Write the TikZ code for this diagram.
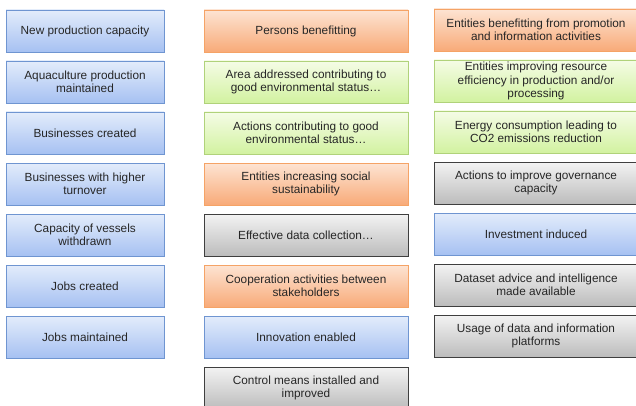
\documentclass[tikz,border=0pt]{standalone}
\usepackage{fontspec}
\setmainfont{Liberation Sans}
\usetikzlibrary{shadows}

\definecolor{bluetop}{HTML}{E3ECFB}
\definecolor{bluebot}{HTML}{A6C1F2}
\definecolor{blueline}{HTML}{6F95D1}
\definecolor{orangetop}{HTML}{FDE4D3}
\definecolor{orangebot}{HTML}{F8AA78}
\definecolor{orangeline}{HTML}{F5A366}
\definecolor{greentop}{HTML}{F5FCE6}
\definecolor{greenbot}{HTML}{D2F2A0}
\definecolor{greenline}{HTML}{B0D27A}
\definecolor{graytop}{HTML}{F3F3F3}
\definecolor{graybot}{HTML}{BCBCBC}
\definecolor{grayline}{HTML}{3F3F3F}

\begin{document}
\begin{tikzpicture}[x=1pt,y=-1pt,
    box/.style={rectangle,draw,line width=0.9pt,minimum height=42pt,
      inner sep=1pt,align=center,text=black!85,
      font=\fontsize{11.8}{13.3}\selectfont,
      drop shadow={shadow xshift=0.8pt,shadow yshift=-1.2pt,opacity=0.3}},
    bluebox/.style={box,draw=blueline,top color=bluetop,bottom color=bluebot},
    orangebox/.style={box,draw=orangeline,top color=orangetop,bottom color=orangebot},
    greenbox/.style={box,draw=greenline,top color=greentop,bottom color=greenbot},
    graybox/.style={box,draw=grayline,top color=graytop,bottom color=graybot}]
    \useasboundingbox (0,0) rectangle (636,406);
    \clip (0,0) rectangle (636,406);

    % left column
    \foreach \txt [count=\i] in {New production capacity,
        {Aquaculture production\\maintained},
        Businesses created,
        {Businesses with higher\\turnover},
        {Capacity of vessels\\withdrawn},
        Jobs created,
        Jobs maintained} {
      \node[bluebox,minimum width=158pt](l\i) at (85, {31+51*(\i-1)}) {\txt};
    }

    % middle column
    \foreach \kind/\txt [count=\i] in {orangebox/Persons benefitting,
        greenbox/{Area addressed contributing to\\good environmental status\ldots},
        greenbox/{Actions contributing to good\\environmental status\ldots},
        orangebox/{Entities increasing social\\sustainability},
        graybox/Effective data collection\ldots,
        orangebox/{Cooperation activities between\\stakeholders},
        bluebox/Innovation enabled,
        graybox/{Control means installed and\\improved}} {
      \node[\kind,minimum width=204pt](m\i) at (306, {31+51*(\i-1)}) {\txt};
    }

    % right column
    \foreach \kind/\txt [count=\i] in {orangebox/{Entities benefitting from promotion\\and information activities},
        greenbox/{Entities improving resource\\efficiency in production and/or\\processing},
        greenbox/{Energy consumption leading to\\CO2 emissions reduction},
        graybox/{Actions to improve governance\\capacity},
        bluebox/Investment induced,
        graybox/{Dataset advice and intelligence\\made available},
        graybox/{Usage of data and information\\platforms}} {
      \node[\kind,minimum width=204pt](r\i) at (536, {30+51*(\i-1)}) {\txt};
    }
  \end{tikzpicture}
\end{document}
